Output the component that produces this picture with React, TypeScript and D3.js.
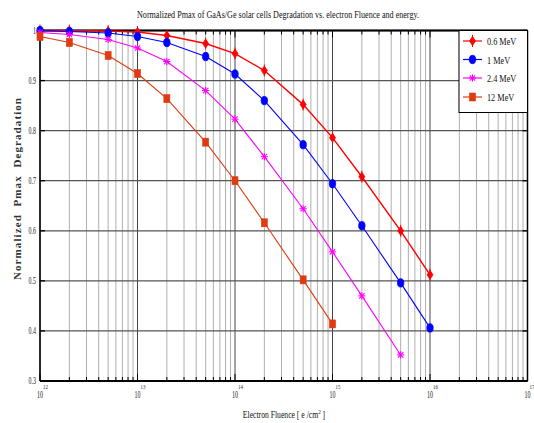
import React from "react";
import * as d3 from "d3";

const fluence = [1e12, 2e12, 5e12, 1e13, 2e13, 5e13, 1e14, 2e14, 5e14, 1e15, 2e15, 5e15, 1e16];
const mev06 = [1.0, 1.0, 0.999, 0.997, 0.99, 0.974, 0.954, 0.92, 0.852, 0.786, 0.708, 0.6, 0.512];
const mev1 = [1.0, 0.998, 0.995, 0.988, 0.976, 0.948, 0.913, 0.86, 0.772, 0.694, 0.61, 0.496, 0.406];
const mev24 = [0.996, 0.992, 0.982, 0.965, 0.938, 0.88, 0.823, 0.748, 0.644, 0.558, 0.47, 0.352];
const mev12 = [0.988, 0.976, 0.95, 0.914, 0.864, 0.777, 0.7, 0.616, 0.502, 0.414];

const seriesNames = ["0.6 MeV", "1 MeV", "2.4 MeV", "12 MeV"];
const seriesColors = ["#ff0000", "#0000ff", "#ff00ff", "#e03a10"];
const seriesMarkers = ["diamond", "circle", "star", "square"];
const seriesValues = [mev06, mev1, mev24, mev12];

const yTicks = [0.3, 0.4, 0.5, 0.6, 0.7, 0.8, 0.9, 1];
const yTickLabels = ["0.3", "0.4", "0.5", "0.6", "0.7", "0.8", "0.9", "1"];
const xDecades = [12, 13, 14, 15, 16, 17];

const title = "Normalized Pmax of GaAs/Ge solar cells Degradation vs. electron Fluence and energy.";
const yLabel = "Normalized  Pmax  Degradation";

const FONT = "'Liberation Serif', 'Times New Roman', serif";

function Marker({ type, x, y, color }: { type: string; x: number; y: number; color: string }) {
  if (type === "diamond") {
    return (
      <g>
        <path d={`M${x},${y - 4.5}L${x + 3},${y}L${x},${y + 4.5}L${x - 3},${y}Z`} fill={color} stroke={color} strokeWidth={0.8} />
        <line x1={x} x2={x} y1={y - 6} y2={y + 6} stroke={color} strokeWidth={1} />
      </g>
    );
  }
  if (type === "circle") {
    return <ellipse cx={x} cy={y} rx={3.2} ry={4.2} fill={color} stroke={color} strokeWidth={0.8} />;
  }
  if (type === "square") {
    return <rect x={x - 3} y={y - 4} width={6} height={8} fill={color} stroke={color} strokeWidth={0.6} />;
  }
  const r = 3.6;
  return (
    <g stroke={color} strokeWidth={1.1}>
      <line x1={x - r} x2={x + r} y1={y} y2={y} />
      <line x1={x} x2={x} y1={y - r} y2={y + r} />
      <line x1={x - r * 0.75} x2={x + r * 0.75} y1={y - r * 0.75} y2={y + r * 0.75} />
      <line x1={x - r * 0.75} x2={x + r * 0.75} y1={y + r * 0.75} y2={y - r * 0.75} />
    </g>
  );
}

export default function App() {
  const W = 534;
  const H = 423;
  const left = 40;
  const right = 527.5;
  const top = 30.5;
  const bottom = 381;

  const x = d3.scaleLog().domain([1e12, 1e17]).range([left, right]);
  const y = d3.scaleLinear().domain([0.3, 1]).range([bottom, top]);

  const minor: number[] = [];
  for (let e = 12; e < 17; e++) {
    for (let m = 2; m <= 9; m++) minor.push(m * Math.pow(10, e));
  }

  const line = d3
    .line<[number, number]>()
    .x((d) => x(d[0]))
    .y((d) => y(d[1]));

  const legendX = 459;
  const legendY = 30.5;
  const legendRows = [41, 59.5, 78, 97];

  return (
    <svg width={W} height={H} style={{ position: "absolute", left: 0, top: 0, background: "#fff" }} fontFamily={FONT}>
      <rect x={0} y={0} width={W} height={H} fill="#fff" />
      {minor.map((v, i) => (
        <line key={"mg" + i} x1={x(v)} x2={x(v)} y1={top} y2={bottom} stroke="#b0b0b0" strokeWidth={1} />
      ))}
      {xDecades.map((e) => (
        <line key={"dg" + e} x1={x(Math.pow(10, e))} x2={x(Math.pow(10, e))} y1={top} y2={bottom} stroke="#444" strokeWidth={1} />
      ))}
      {yTicks.map((t) => (
        <line key={"hg" + t} x1={left} x2={right} y1={y(t)} y2={y(t)} stroke="#555" strokeWidth={1.3} />
      ))}
      {minor.map((v, i) => (
        <g key={"mt" + i}>
          <line x1={x(v)} x2={x(v)} y1={bottom} y2={bottom - 4} stroke="#000" strokeWidth={1} />
          <line x1={x(v)} x2={x(v)} y1={top} y2={top + 4} stroke="#000" strokeWidth={1} />
        </g>
      ))}
      {xDecades.map((e) => (
        <g key={"dt" + e}>
          <line x1={x(Math.pow(10, e))} x2={x(Math.pow(10, e))} y1={bottom} y2={bottom - 7} stroke="#000" strokeWidth={1} />
          <line x1={x(Math.pow(10, e))} x2={x(Math.pow(10, e))} y1={top} y2={top + 7} stroke="#000" strokeWidth={1} />
        </g>
      ))}
      {yTicks.map((t) => (
        <g key={"yt" + t}>
          <line x1={left} x2={left + 5} y1={y(t)} y2={y(t)} stroke="#000" strokeWidth={1.3} />
          <line x1={right} x2={right - 5} y1={y(t)} y2={y(t)} stroke="#000" strokeWidth={1.3} />
        </g>
      ))}
      <line x1={left} x2={right} y1={bottom} y2={bottom} stroke="#000" strokeWidth={2} />
      <line x1={left} x2={right} y1={top} y2={top} stroke="#000" strokeWidth={2} />
      <line x1={left} x2={left} y1={top} y2={bottom} stroke="#000" strokeWidth={1.5} />
      <line x1={right} x2={right} y1={top} y2={bottom} stroke="#000" strokeWidth={1.5} />

      {seriesValues.map((vals, si) => {
        const pts: [number, number][] = vals.map((v, i) => [fluence[i], v]);
        return (
          <g key={"s" + si}>
            <path d={line(pts) || ""} fill="none" stroke={seriesColors[si]} strokeWidth={si === 0 ? 1.4 : 1.1} />
            {pts.map((p, i) => (
              <Marker key={i} type={seriesMarkers[si]} x={x(p[0])} y={y(p[1])} color={seriesColors[si]} />
            ))}
          </g>
        );
      })}

      {yTicks.map((t, i) => (
        <text key={"yl" + t} transform={`translate(36,${y(t) + 3}) scale(0.6,1)`} textAnchor="end" fontSize={10} fill="#222">
          {yTickLabels[i]}
        </text>
      ))}
      {xDecades.map((e) => (
        <g key={"xl" + e} transform={`translate(${x(Math.pow(10, e))},398)`}>
          <text transform="scale(0.6,1)" textAnchor="middle" fontSize={10} fill="#222">
            10
          </text>
          <text transform={`translate(${e === 17 ? 2 : 3},-9) scale(0.7,1)`} fontSize={7} fill="#222">
            {e}
          </text>
        </g>
      ))}

      <text x={278} y={18} textAnchor="middle" fontSize={10.5} textLength={282} lengthAdjust="spacingAndGlyphs" fill="#111">
        {title}
      </text>
      <text transform="translate(284,418) scale(0.73,1)" textAnchor="middle" fontSize={10.5} fill="#111">
        Electron Fluence [ e /cm
        <tspan dy={-4} fontSize={7}>2</tspan>
        <tspan dy={4}> ]</tspan>
      </text>
      <text
        transform={`translate(21,189) rotate(-90)`}
        textAnchor="middle"
        fontSize={11}
        fontWeight="bold"
        textLength={182}
        lengthAdjust="spacing"
        fill="#333"
        style={{ whiteSpace: "pre" }}
      >
        {yLabel}
      </text>

      <rect x={legendX} y={legendY} width={right - legendX} height={82} fill="#fff" stroke="#000" strokeWidth={1} />
      {seriesNames.map((n, i) => (
        <g key={"lg" + i}>
          <line x1={463} x2={482} y1={legendRows[i]} y2={legendRows[i]} stroke={seriesColors[i]} strokeWidth={1.2} />
          <Marker type={seriesMarkers[i]} x={472.5} y={legendRows[i]} color={seriesColors[i]} />
          <text transform={`translate(487,${legendRows[i] + 4}) scale(0.75,1)`} fontSize={11} fill="#111">
            {n}
          </text>
        </g>
      ))}
    </svg>
  );
}
